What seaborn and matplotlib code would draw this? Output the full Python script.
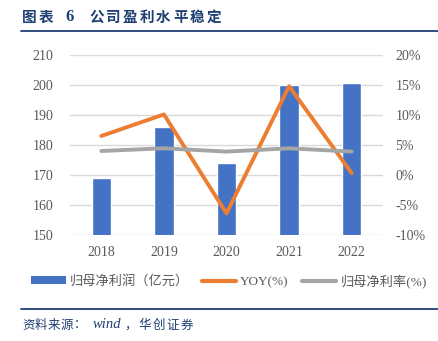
import matplotlib
matplotlib.use("Agg")
import matplotlib.pyplot as plt
from matplotlib.lines import Line2D
from matplotlib.patches import Patch
import seaborn as sns
import pandas as pd

years = ["2018", "2019", "2020", "2021", "2022"]
net_profit = [168.9, 185.9, 174.1, 200.0, 200.6]   # 亿元
yoy = [6.5, 10.1, -6.4, 14.8, 0.3]                 # %
net_margin = [4.0, 4.45, 3.9, 4.45, 3.9]           # %

left_ticks = [150, 160, 170, 180, 190, 200, 210]
right_ticks = [-10, -5, 0, 5, 10, 15, 20]

BLUE = "#4472C4"
ORANGE = "#ED7D31"
GREY = "#A5A5A5"
NAVY = "#1F3F73"
TICK = "#595959"

sns.set_theme(style="white")
plt.rcParams["font.family"] = ["Noto Sans CJK SC", "DejaVu Sans"]

df = pd.DataFrame({"year": years, "profit": net_profit, "yoy": yoy, "margin": net_margin})

W, H = 438, 341
fig = plt.figure(figsize=(W / 100, H / 100), dpi=100)
ax = fig.add_axes([70 / W, 1 - 235 / H, (383 - 70) / W, (235 - 55) / H])

sns.barplot(data=df, x="year", y="profit", ax=ax, color=BLUE, width=0.31,
            saturation=1, zorder=2)
ax.set_ylim(150, 210)
ax.set_yticks(left_ticks)
ax.grid(axis="y", color="#D9D9D9", linewidth=1, zorder=0)
ax.set_axisbelow(True)

ax2 = ax.twinx()
sns.pointplot(data=df, x="year", y="yoy", ax=ax2, color=ORANGE, markers="",
              linewidth=2.8, errorbar=None)
sns.pointplot(data=df, x="year", y="margin", ax=ax2, color=GREY, markers="",
              linewidth=2.8, errorbar=None)
ax2.set_ylim(-10, 20)
ax2.set_yticks(right_ticks)
ax2.set_yticklabels([f"{v}%" for v in right_ticks])

for a in (ax, ax2):
    for s in a.spines.values():
        s.set_visible(False)
    a.set_xlabel("")
    a.set_ylabel("")
    a.tick_params(length=0, colors=TICK)
    for lab in a.get_xticklabels() + a.get_yticklabels():
        lab.set_fontfamily("Liberation Serif")
        lab.set_fontsize(10)
        lab.set_color(TICK)
ax.tick_params(axis="y", pad=12)
ax.tick_params(axis="x", pad=8)
ax2.tick_params(axis="y", pad=9)
ax.set_xlim(-0.5, 4.5)


def spaced(x0, y, text, pitch, **kw):
    """Draw text one character at a time with a fixed horizontal pitch (px)."""
    for i, ch in enumerate(text):
        fig.text((x0 + i * pitch) / W, 1 - y / H, ch, va="center", ha="left", **kw)


# Title and rules
title_kw = dict(color=NAVY, fontsize=10.5, fontweight="bold")
spaced(22, 17, "图表", 17, **title_kw)
fig.text(65 / W, 1 - 17 / H, "6", family=["Liberation Serif"], va="center",
         ha="left", color=NAVY, fontsize=12, fontweight="bold")
spaced(89, 17, "公司盈利水平稳定", 16.8, **title_kw)
fig.add_artist(Line2D([21 / W, 1], [1 - 31 / H, 1 - 31 / H], color=NAVY, linewidth=1.3))
fig.add_artist(Line2D([21 / W, 1], [1 - 309 / H, 1 - 309 / H], color=NAVY, linewidth=1.3))

handles = [Patch(facecolor=BLUE, edgecolor="none"),
           Line2D([], [], color=ORANGE, linewidth=3),
           Line2D([], [], color=GREY, linewidth=3)]
labels = ["归母净利润（亿元）", "YOY(%)", "归母净利率(%)"]
leg = fig.legend(handles, labels, loc="center", bbox_to_anchor=(229 / W, 1 - 281 / H),
                 ncol=3, frameon=False, fontsize=9.5, handlelength=2.6, handleheight=0.6,
                 handletextpad=0.3, columnspacing=1.0, borderaxespad=0)
for t in leg.get_texts():
    t.set_color(TICK)
    t.set_fontfamily(["Liberation Serif", "Noto Sans CJK SC"])

# Source line
src_kw = dict(color=NAVY, fontsize=9)
spaced(22, 325, "资料来源：", 13, **src_kw)
fig.text(93 / W, 1 - 325 / H, "wind", family=["Liberation Serif"], style="italic",
         va="center", ha="left", color=NAVY, fontsize=10.5)
spaced(124, 325, "，华创证券", 14.2, **src_kw)

fig.savefig("out.png", dpi=100)
